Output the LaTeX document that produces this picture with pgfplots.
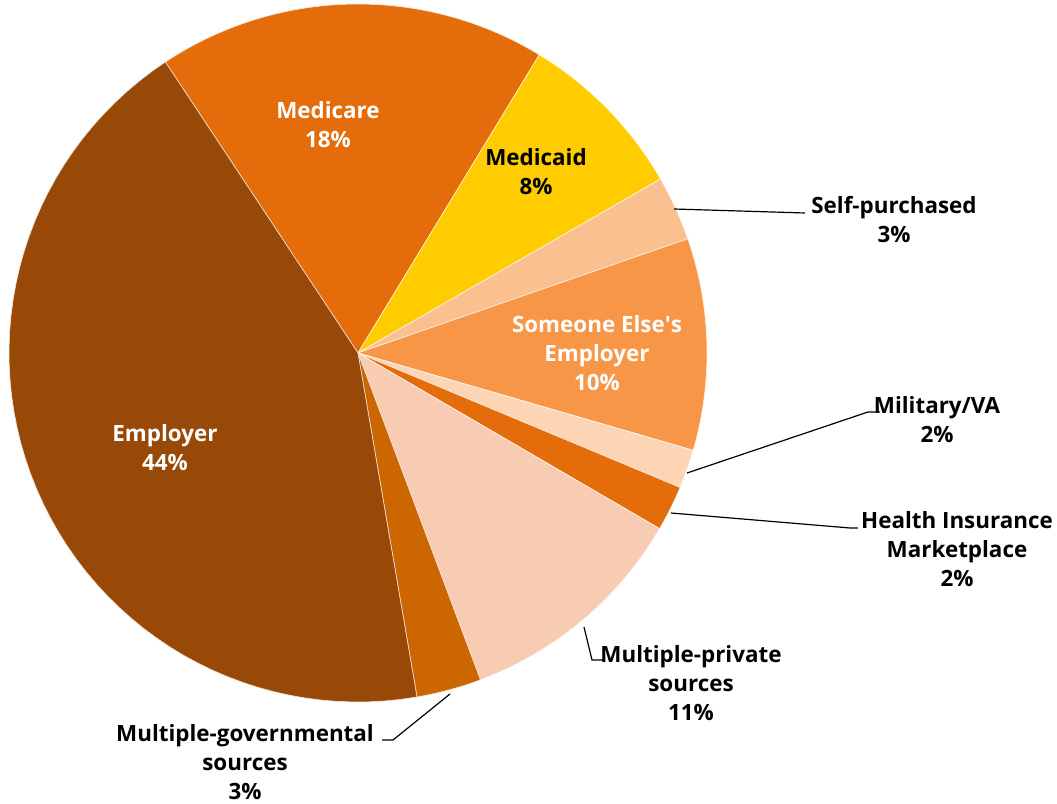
\documentclass[border=0pt]{standalone}
\usepackage{pgfplots}
\pgfplotsset{compat=1.18}
\usepackage{fontspec}
\setmainfont{Open Sans}
\definecolor{cEmployer}{HTML}{984807}
\definecolor{cMedicare}{HTML}{E46C0A}
\definecolor{cMedicaid}{HTML}{FFCC00}
\definecolor{cSelf}{HTML}{FAC090}
\definecolor{cSomeone}{HTML}{F79646}
\definecolor{cMilitary}{HTML}{FCD5B5}
\definecolor{cHIM}{HTML}{E46C0A}
\definecolor{cMPriv}{HTML}{F8CBB3}
\definecolor{cMGov}{HTML}{CC6600}
% shares in percent (clockwise from Medicare)
\def\vMedicare{18.0}
\def\vMedicaid{8.0}
\def\vSelf{3.0}
\def\vSomeone{9.8}
\def\vMilitary{1.8}
\def\vHIM{2.1}
\def\vMPriv{10.9}
\def\vMGov{3.0}
\def\vEmployer{43.4}
\def\cx{358}
\def\cy{451}
\def\rr{349}
\pgfmathsetmacro\aA{123.5}
\pgfmathsetmacro\aB{\aA-3.6*\vMedicare}
\pgfmathsetmacro\aC{\aB-3.6*\vMedicaid}
\pgfmathsetmacro\aD{\aC-3.6*\vSelf}
\pgfmathsetmacro\aE{\aD-3.6*\vSomeone}
\pgfmathsetmacro\aF{\aE-3.6*\vMilitary}
\pgfmathsetmacro\aG{\aF-3.6*\vHIM}
\pgfmathsetmacro\aH{\aG-3.6*\vMPriv}
\pgfmathsetmacro\aI{\aH-3.6*\vMGov}
\pgfmathsetmacro\aJ{\aI-3.6*\vEmployer}
\newcommand{\slice}[3]{%
  \addplot[fill=#3, draw=white!85!#3, line width=0.3pt, domain=#2:#1, samples=60, variable=\t]
    ({\cx+\rr*cos(\t)},{\cy+\rr*sin(\t)}) -- (axis cs:\cx,\cy) -- cycle;}
\tikzset{lbl/.style={font=\fontsize{11.2}{14.5}\selectfont\bfseries, align=center, inner sep=0pt}}
\begin{document}
\begin{tikzpicture}
\begin{axis}[
  scale only axis, width=528.5pt, height=402pt,
  xmin=0, xmax=1057, ymin=0, ymax=804,
  hide axis, clip=false, at={(0,0)}, anchor=south west,
]
\slice{\aA}{\aB}{cMedicare}
\slice{\aB}{\aC}{cMedicaid}
\slice{\aC}{\aD}{cSelf}
\slice{\aD}{\aE}{cSomeone}
\slice{\aE}{\aF}{cMilitary}
\slice{\aF}{\aG}{cHIM}
\slice{\aG}{\aH}{cMPriv}
\slice{\aH}{\aI}{cMGov}
\slice{\aI}{\aJ}{cEmployer}
% in-slice labels
\node[lbl, text=white] at (axis cs:328,679) {Medicare\\18\%};
\node[lbl, text=black] at (axis cs:536,632) {Medicaid\\8\%};
\node[lbl, text=white] at (axis cs:597,451) {Someone Else\textquotesingle s\\Employer\\10\%};
\node[lbl, text=white] at (axis cs:165,356) {Employer\\44\%};
% leader lines
\draw[black, line width=0.6pt] (axis cs:674,595) -- (axis cs:805,591);
\draw[black, line width=0.6pt] (axis cs:687,331) -- (axis cs:868,392) -- (axis cs:880,392);
\draw[black, line width=0.6pt] (axis cs:671,291) -- (axis cs:850,276) -- (axis cs:858,276);
\draw[black, line width=0.6pt] (axis cs:584,177) -- (axis cs:592,144) -- (axis cs:603,144);
\draw[black, line width=0.6pt] (axis cs:450,110) -- (axis cs:393,64) -- (axis cs:382,64);
% outside labels
\node[lbl, text=black] at (axis cs:894,584) {Self-purchased\\3\%};
\node[lbl, text=black] at (axis cs:937,384) {Military/VA\\2\%};
\node[lbl, text=black] at (axis cs:957,255) {Health Insurance\\Marketplace\\2\%};
\node[lbl, text=black] at (axis cs:691,121) {Multiple-private\\sources\\11\%};
\node[lbl, text=black] at (axis cs:245,42) {Multiple-governmental\\sources\\3\%};
\end{axis}
\pgfresetboundingbox
\path (0,0) rectangle (528.5pt,402pt);
\end{tikzpicture}
\end{document}
